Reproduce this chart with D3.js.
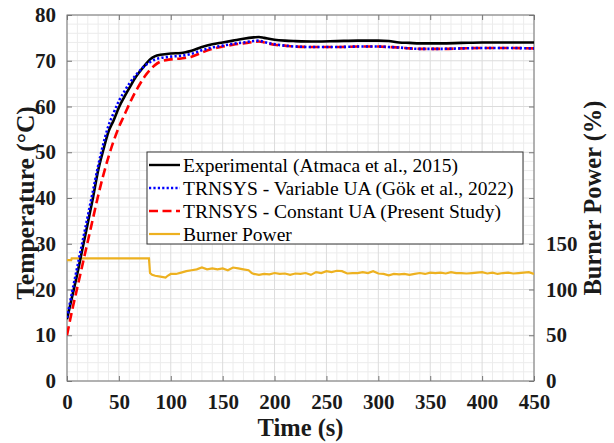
<!DOCTYPE html>
<html>
<head>
<meta charset="utf-8">
<script src="https://cdn.jsdelivr.net/npm/d3@7"></script>
<style>
  body { margin: 0; background: #fff; }
  svg { display: block; font-family: "Liberation Serif", "Times New Roman", serif; }
  svg text { font-family: "Liberation Serif", "Times New Roman", serif; }
</style>
</head>
<body>
<svg id="chart" width="614" height="443"></svg>
<script>
// time axis for the three temperature curves (s)
var timeTemp = [0,5,10,15,20,25,30,35,40,45,50,55,60,65,70,75,80,85,90,100,110,120,130,140,150,160,170,180,185,190,200,210,220,240,260,280,300,310,320,330,340,360,380,400,420,450];

var tempExperimental = [13.5,18.5,23.5,29,34.5,40,46,50.5,54.5,57,59.8,62,64,66,67.6,69,70.3,71,71.3,71.6,71.7,72.2,73,73.6,74,74.4,74.8,75.1,75.2,75,74.6,74.4,74.3,74.2,74.3,74.4,74.4,74.3,74,73.9,73.8,73.8,73.9,74,74,74];
var tempVariableUA = [13.8,19.5,25,30.5,36,41.5,47,51.8,55.8,58.6,61.2,63.2,65,66.5,67.8,68.9,69.7,70.3,70.6,70.9,71.1,71.5,72.3,72.9,73.3,73.7,74,74.3,74.4,74.1,73.6,73.3,73.1,73,73,73.1,73.1,73,72.9,72.7,72.6,72.6,72.7,72.8,72.8,72.7];
var tempConstantUA = [10,15.5,20.5,25.5,30.5,35.5,40.5,45,49,52.5,55.5,58,60.5,62.8,64.8,66.6,68,69.1,69.8,70.3,70.5,70.9,71.8,72.6,73.1,73.5,73.8,74.1,74.2,74,73.5,73.3,73.1,73,73,73.1,73.1,73,72.9,72.7,72.6,72.6,72.7,72.8,72.8,72.7];

// burner power (%) on the right axis
var burnerTime = [0,4,4.5,79,80,82,85,90,95,97,100,105,110,115,120,125,130,135,140,145,150,155,160,165,170,175,178,180,185,190,195,200,205,210,215,220,225,230,235,240,245,250,255,260,265,270,275,280,285,290,295,300,305,310,315,320,325,330,335,340,345,350,355,360,365,370,375,380,385,390,395,400,405,410,415,420,425,430,435,440,445,450];
var burnerPower = [132,132,134,134,118,116,115,114,113,115,117,117,118.5,120,121,122,124,122,123,122,123,121,124,123,122,121,118,117,116,117,116.5,118,117,117.5,116,117.5,117,118,116,119,118,120,119,120.5,120,117.5,118,118,119,118,120,117.5,117,115.5,117,116.5,117,116,117,118,117,118.5,118,118.5,117.5,119,118,118,117.5,118,118.5,119,117.5,118.5,117,118,118.5,117.5,118,118.5,119,117];

var xTicks = [0,50,100,150,200,250,300,350,400,450];
var yTicks = [0,10,20,30,40,50,60,70,80];
var y2Ticks = [0,50,100,150,200,250,300,350,400];
var y2Labels = [0,50,100,150];

var legendNames = [
  "Experimental (Atmaca et al., 2015)",
  "TRNSYS - Variable UA (Gök et al., 2022)",
  "TRNSYS - Constant UA (Present Study)",
  "Burner Power"
];

var margin = { top: 15, right: 80, bottom: 62, left: 67 },
    width = 614 - margin.left - margin.right,
    height = 443 - margin.top - margin.bottom;

var svg = d3.select("#chart");
var g = svg.append("g").attr("transform", "translate(" + margin.left + "," + margin.top + ")");

var x = d3.scaleLinear().domain([0, 450]).range([0, width]);
var y = d3.scaleLinear().domain([0, 80]).range([height, 0]);
var y2 = d3.scaleLinear().domain([0, 400]).range([height, 0]);

// minor grid
g.append("g").selectAll("line.mx")
  .data(d3.range(0, 451, 10).filter(function(d) { return d % 50 != 0; }))
  .enter().append("line")
  .attr("x1", x).attr("x2", x).attr("y1", 0).attr("y2", height)
  .attr("stroke", "#ececec").attr("stroke-width", 1);
g.append("g").selectAll("line.my")
  .data(d3.range(0, 81, 2).filter(function(d) { return d % 10 != 0; }))
  .enter().append("line")
  .attr("y1", y).attr("y2", y).attr("x1", 0).attr("x2", width)
  .attr("stroke", "#ececec").attr("stroke-width", 1);
// major grid
g.append("g").selectAll("line")
  .data(xTicks).enter().append("line")
  .attr("x1", x).attr("x2", x).attr("y1", 0).attr("y2", height)
  .attr("stroke", "#dcdcdc").attr("stroke-width", 1);
g.append("g").selectAll("line")
  .data(yTicks).enter().append("line")
  .attr("y1", y).attr("y2", y).attr("x1", 0).attr("x2", width)
  .attr("stroke", "#dcdcdc").attr("stroke-width", 1);

// axes with inner ticks
function styleAxis(sel) {
  sel.attr("font-family", "Liberation Serif").attr("font-size", 21).attr("font-weight", "bold");
  sel.select(".domain").remove();
  sel.selectAll(".tick line").attr("stroke", "#777");
  sel.selectAll("text").attr("fill", "#1a1a1a");
}
g.append("g").attr("transform", "translate(0," + height + ")")
  .call(d3.axisBottom(x).tickValues(xTicks).tickSizeInner(-5).tickPadding(10))
  .call(styleAxis)
  .selectAll("text").attr("dy", "0.85em");
g.append("g")
  .call(d3.axisTop(x).tickValues(xTicks).tickSizeInner(-5).tickFormat(""))
  .call(styleAxis);
g.append("g")
  .call(d3.axisLeft(y).tickValues(yTicks).tickSizeInner(-5).tickPadding(11))
  .call(styleAxis);
g.append("g").attr("transform", "translate(" + width + ",0)")
  .call(d3.axisRight(y2).tickValues(y2Ticks).tickSizeInner(-5).tickPadding(12)
    .tickFormat(function(d) { return y2Labels.indexOf(d) >= 0 ? d : ""; }))
  .call(styleAxis);

// box
g.append("rect").attr("width", width).attr("height", height)
  .attr("fill", "none").attr("stroke", "#777").attr("stroke-width", 1);

var lineT = function(vals) {
  return d3.line()
    .x(function(d, i) { return x(timeTemp[i]); })
    .y(function(d) { return y(d); })
    .curve(d3.curveMonotoneX)(vals);
};

var lineB = d3.line()
  .x(function(d, i) { return x(burnerTime[i]); })
  .y(function(d) { return y2(d); });

var clip = g.append("clipPath").attr("id", "clip").append("rect")
  .attr("width", width).attr("height", height);

var plot = g.append("g").attr("clip-path", "url(#clip)");

var styles = [
  { color: "#000000", dash: null, w: 2.6 },
  { color: "#0000ff", dash: "2.2,2.2", w: 2.6 },
  { color: "#ff0000", dash: "9,4.5", w: 2.6 },
  { color: "#edb120", dash: null, w: 2.2 }
];

plot.append("path").attr("d", lineB(burnerPower))
  .attr("fill", "none").attr("stroke", styles[3].color).attr("stroke-width", styles[3].w);
plot.append("path").attr("d", lineT(tempExperimental))
  .attr("fill", "none").attr("stroke", styles[0].color).attr("stroke-width", styles[0].w);
plot.append("path").attr("d", lineT(tempConstantUA))
  .attr("fill", "none").attr("stroke", styles[2].color).attr("stroke-width", styles[2].w)
  .attr("stroke-dasharray", styles[2].dash);
plot.append("path").attr("d", lineT(tempVariableUA))
  .attr("fill", "none").attr("stroke", styles[1].color).attr("stroke-width", styles[1].w)
  .attr("stroke-dasharray", styles[1].dash);

// axis titles
g.append("text")
  .attr("transform", "translate(" + (25 - margin.left) + "," + (203 - margin.top) + ") rotate(-90)")
  .attr("text-anchor", "middle").attr("dominant-baseline", "central")
  .style("font-size", "25.5px").style("font-weight", "bold").attr("fill", "#1a1a1a")
  .text("Temperature (°C)");
g.append("text")
  .attr("transform", "translate(" + (592 - margin.left) + "," + (height / 2) + ") rotate(-90)")
  .attr("text-anchor", "middle").attr("dominant-baseline", "central")
  .style("font-size", "24.5px").style("font-weight", "bold").attr("fill", "#1a1a1a")
  .text("Burner Power (%)");
g.append("text")
  .attr("x", width / 2).attr("y", 427 - margin.top)
  .attr("text-anchor", "middle").attr("dominant-baseline", "central")
  .style("font-size", "24.5px").style("font-weight", "bold").attr("fill", "#1a1a1a")
  .text("Time (s)");

// legend
var legend = svg.append("g").attr("transform", "translate(147,152)");
legend.append("rect").attr("width", 376).attr("height", 92)
  .attr("fill", "#fff").attr("stroke", "#333").attr("stroke-width", 1);
var items = legend.selectAll("g.item").data(legendNames).enter().append("g")
  .attr("transform", function(d, i) { return "translate(0," + (13 + i * 23) + ")"; });
items.append("line")
  .attr("x1", 2).attr("x2", 33).attr("y1", 0).attr("y2", 0)
  .attr("stroke", function(d, i) { return styles[i].color; })
  .attr("stroke-width", function(d, i) { return i == 3 ? 2.2 : 2.4; })
  .attr("stroke-dasharray", function(d, i) { return styles[i].dash; });
items.append("text")
  .attr("x", 36).attr("y", 0).attr("dominant-baseline", "central")
  .style("font-size", "19.5px").attr("fill", "#000")
  .text(function(d) { return d; });
</script>
</body>
</html>
